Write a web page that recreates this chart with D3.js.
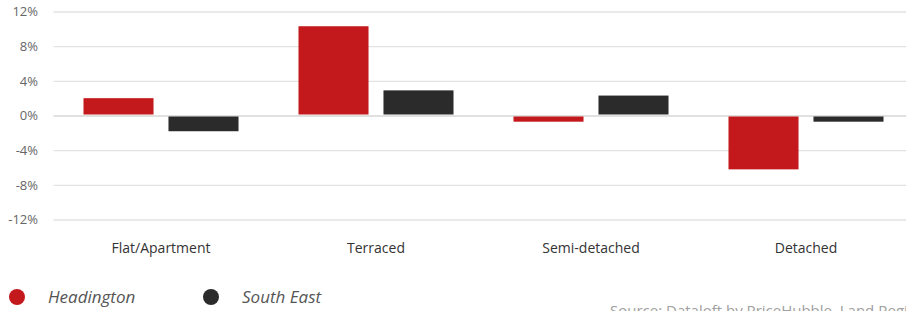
<!DOCTYPE html>
<html>
<head>
<meta charset="utf-8">
<script src="https://cdn.jsdelivr.net/npm/d3@7"></script>
<style>
  body { margin: 0; background: #fff; }
  svg { display: block; font-family: "Open Sans", sans-serif; }
</style>
</head>
<body>
<svg id="chart" width="906" height="311"></svg>
<script>
// chart data
var categories = ["Flat/Apartment", "Terraced", "Semi-detached", "Detached"];
var seriesNames = ["Headington", "South East"];
var headington = [2.0, 10.3, -0.6, -6.1];
var southEast = [-1.7, 2.9, 2.3, -0.6];
var yTicks = [-12, -8, -4, 0, 4, 8, 12];
var colors = ["#c4191c", "#2b2b2b"];
var sourceText = "Source: Dataloft by PriceHubble, Land Registry";

var svg = d3.select("#chart");
var width = 906, height = 311;

// plot area (runs off the right edge like the original)
var left = 53.5, right = 913.5;

var x = d3.scaleBand()
    .domain(categories)
    .range([left, right])
    .paddingInner(0)
    .paddingOuter(0);

var xInner = d3.scaleBand()
    .domain(seriesNames)
    .range([0, x.bandwidth()])
    .paddingInner(0.176)
    .paddingOuter(0.353);

var y = d3.scaleLinear()
    .domain([-12, 12])
    .range([219.5, 11.5]);

// gridlines
var grid = d3.axisLeft(y)
    .tickValues(yTicks)
    .tickSize(-(width - left))
    .tickFormat("");

svg.append("g")
    .attr("transform", "translate(" + left + ",0)")
    .call(grid)
    .call(function(g) { g.select(".domain").remove(); })
    .selectAll("line")
    .attr("stroke", function(d) { return d === 0 ? "#d6d6d6" : "#e2e2e2"; })
    .attr("stroke-width", 1.3);

// y axis labels
var yAxis = d3.axisLeft(y)
    .tickValues(yTicks)
    .tickSize(0)
    .tickPadding(0)
    .tickFormat(function(d) { return d + "%"; });

svg.append("g")
    .attr("transform", "translate(38,0)")
    .call(yAxis)
    .call(function(g) { g.select(".domain").remove(); })
    .selectAll("text")
    .attr("font-family", "Open Sans, sans-serif")
    .attr("font-size", 13)
    .attr("fill", "#666");

// bars
var rows = categories.map(function(c, i) {
    return { cat: c, values: [headington[i], southEast[i]] };
});

var groups = svg.append("g").selectAll("g")
    .data(rows)
    .join("g")
    .attr("transform", function(d) { return "translate(" + x(d.cat) + ",0)"; });

groups.selectAll("rect")
    .data(function(d) {
        return d.values.map(function(v, j) { return { name: seriesNames[j], value: v, idx: j }; });
    })
    .join("rect")
    .attr("x", function(d) { return xInner(d.name); })
    .attr("width", xInner.bandwidth())
    .attr("y", function(d) { return d.value >= 0 ? y(d.value) : y(0) + 1; })
    .attr("height", function(d) { return Math.abs(y(d.value) - y(0)) - (d.value >= 0 ? 1 : 0); })
    .attr("fill", function(d) { return colors[d.idx]; });

// category labels
var xAxis = d3.axisBottom(x).tickSize(0).tickPadding(0);
svg.append("g")
    .attr("transform", "translate(0,243)")
    .call(xAxis)
    .call(function(g) { g.select(".domain").remove(); })
    .selectAll("text")
    .attr("font-family", "Open Sans, sans-serif")
    .attr("font-size", 14)
    .attr("fill", "#333");

// legend
var legend = svg.append("g").selectAll("g")
    .data(seriesNames)
    .join("g")
    .attr("transform", function(d, i) { return "translate(" + (17 + i * 194) + ",297)"; });

legend.append("circle")
    .attr("r", 8)
    .attr("fill", function(d, i) { return colors[i]; });

legend.append("text")
    .attr("x", 31)
    .attr("dy", "0.35em")
    .attr("font-size", 17)
    .attr("font-style", "italic")
    .attr("fill", "#555")
    .text(function(d) { return d; });

// source note (cut by the bottom edge, as in the original)
svg.append("text")
    .attr("x", 610)
    .attr("y", 316)
    .attr("font-size", 15)
    .attr("fill", "#a0a0a0")
    .text(sourceText);
</script>
</body>
</html>
